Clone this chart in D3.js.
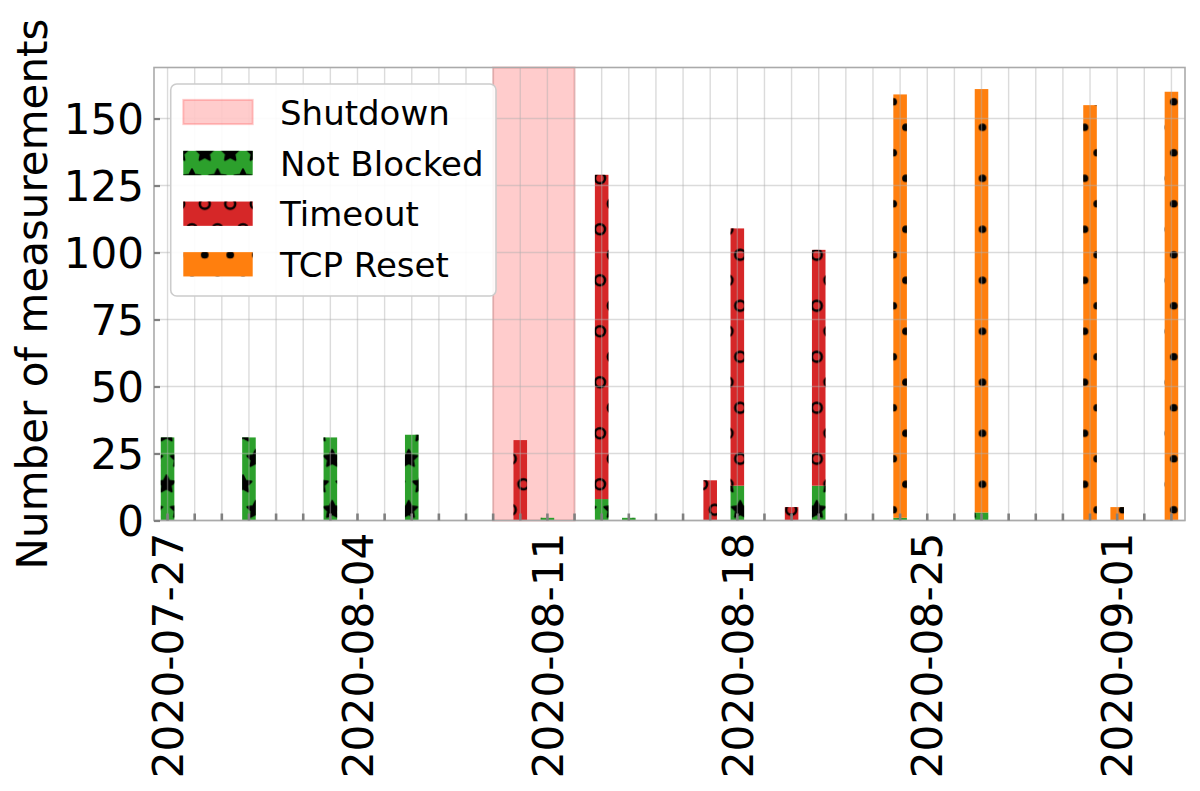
<!DOCTYPE html>
<html><head><meta charset="utf-8">
<script src="https://cdn.jsdelivr.net/npm/d3@7"></script>
<style>html,body{margin:0;padding:0;background:#fff;} svg{display:block;}</style>
</head><body>
<script>
// ---------------- data ----------------
const dates = ["2020-07-27","2020-07-28","2020-07-29","2020-07-30","2020-08-01","2020-08-02","2020-08-03",
  "2020-08-04","2020-08-05","2020-08-06","2020-08-07","2020-08-08","2020-08-09","2020-08-10",
  "2020-08-11","2020-08-12","2020-08-13","2020-08-14","2020-08-15","2020-08-16","2020-08-17",
  "2020-08-18","2020-08-19","2020-08-20","2020-08-21","2020-08-22","2020-08-23","2020-08-24",
  "2020-08-25","2020-08-26","2020-08-27","2020-08-28","2020-08-29","2020-08-30","2020-08-31",
  "2020-09-01","2020-09-02","2020-09-03"];
const tickLabels = ["2020-07-27","2020-08-04","2020-08-11","2020-08-18","2020-08-25","2020-09-01"];
const yTicks = [0,25,50,75,100,125,150];
const notBlocked = [31,0,0,31,0,0,31,0,0,32, 0,0,0,0,1,0,8,1,0,0, 0,13,0,0,13,0,0,1,0,0, 3,0,0,0,0,0,0,0];
const timeout    = [0,0,0,0,0,0,0,0,0,0, 0,0,0,30,0,0,121,0,0,0, 15,96,0,5,88,0,0,0,0,0, 0,0,0,0,0,0,0,0];
const tcpReset   = [0,0,0,0,0,0,0,0,0,0, 0,0,0,0,0,0,0,0,0,0, 0,0,0,0,0,0,0,158,0,0, 158,0,0,0,155,5,0,160];
const shutdown = ["2020-08-09","2020-08-12"];
const seriesNames = ["Not Blocked","Timeout","TCP Reset"];
const yLabel = "Number of measurements";

// ---------------- styles ----------------
const seriesColors = {"Not Blocked":"#2ca02c","Timeout":"#d62728","TCP Reset":"#ff7f0e"};
const seriesHatch = {"Not Blocked":"hatch-star","Timeout":"hatch-circle","TCP Reset":"hatch-dot"};
const FONT = "DejaVu Sans";
const W = 1200, H = 791;
const L = 154, R = 1185, T = 67.5, B = 520.5;

const svg = d3.select("body").append("svg").attr("width", W).attr("height", H)
  .style("font-family", FONT);

// hatch patterns (aligned to page coordinates)
const defs = svg.append("defs");
const tw = 25.5, th = 51, hw = 2.5;
function makePattern(id, drawFn) {
  const p = defs.append("pattern").attr("id", id).attr("patternUnits", "userSpaceOnUse")
    .attr("x", 13.5).attr("y", 25.3).attr("width", tw).attr("height", th);
  const pts = [[0,0],[tw/2, th/2]];
  pts.forEach(([px,py]) => {
    [-1,0,1].forEach(i => [-1,0,1].forEach(j => drawFn(p, px + i*tw, py + j*th)));
  });
}
function starPath(cx, cy, ro) {
  const ri = ro*0.5; let d = "";
  for (let k = 0; k < 10; k++) {
    const a = -Math.PI/2 + k*Math.PI/5;
    const r = k % 2 === 0 ? ro : ri;
    d += (k === 0 ? "M" : "L") + (cx + r*Math.cos(a)).toFixed(2) + "," + (cy + r*Math.sin(a)).toFixed(2);
  }
  return d + "Z";
}
makePattern("hatch-star", (p, x, y) => p.append("path").attr("d", starPath(x, y, 8.8))
  .attr("fill", "#000").attr("stroke", "#000").attr("stroke-width", 2.1).attr("stroke-linejoin","round"));
makePattern("hatch-circle", (p, x, y) => p.append("circle").attr("cx", x).attr("cy", y).attr("r", 5.0)
  .attr("fill", "none").attr("stroke", "#000").attr("stroke-width", hw));
makePattern("hatch-dot", (p, x, y) => p.append("circle").attr("cx", x).attr("cy", y).attr("r", 2.8)
  .attr("fill", "#000").attr("stroke", "#000").attr("stroke-width", 2.1));

// scales
const x = d3.scaleBand().domain(dates).range([L, R]).paddingInner(0.5).paddingOuter(0.25);
const cx = d => x(d) + x.bandwidth()/2;
const rows = dates.map((d,i) => ({date: d, "Not Blocked": notBlocked[i], "Timeout": timeout[i], "TCP Reset": tcpReset[i]}));
const totMax = d3.max(rows, r => r["Not Blocked"] + r["Timeout"] + r["TCP Reset"]);
const y = d3.scaleLinear().domain([0, totMax*1.05]).range([B, T]);

// shutdown span
svg.append("rect").attr("x", cx(shutdown[0])).attr("y", T)
  .attr("width", cx(shutdown[1]) - cx(shutdown[0])).attr("height", B - T)
  .attr("fill", "red").attr("fill-opacity", 0.2)
  .attr("stroke", "red").attr("stroke-opacity", 0.2).attr("stroke-width", 2);

// bars
const stack = d3.stack().keys(seriesNames)(rows);
stack.forEach(layer => {
  const key = layer.key;
  const g = svg.append("g");
  const segs = layer.filter(s => s[1] - s[0] > 0);
  g.selectAll("rect.fill").data(segs).join("rect").attr("class","fill")
    .attr("x", s => x(s.data.date)).attr("width", x.bandwidth())
    .attr("y", s => y(s[1])).attr("height", s => y(s[0]) - y(s[1]))
    .attr("fill", seriesColors[key]);
  g.selectAll("rect.hatch").data(segs).join("rect").attr("class","hatch")
    .attr("x", s => x(s.data.date)).attr("width", x.bandwidth())
    .attr("y", s => y(s[1])).attr("height", s => y(s[0]) - y(s[1]))
    .attr("fill", "url(#" + seriesHatch[key] + ")");
});

// grid (above bars)
const grid = svg.append("g").attr("stroke", "#b0b0b0").attr("stroke-opacity", 0.45).attr("stroke-width", 1.4);
grid.selectAll("line.v").data(dates).join("line").attr("class","v")
  .attr("x1", d => cx(d)).attr("x2", d => cx(d)).attr("y1", T).attr("y2", B);
grid.selectAll("line.h").data(yTicks).join("line").attr("class","h")
  .attr("x1", L).attr("x2", R).attr("y1", d => y(d)).attr("y2", d => y(d));

// frame
svg.append("rect").attr("x", L).attr("y", T).attr("width", R - L).attr("height", B - T)
  .attr("fill", "none").attr("stroke", "#aaaaaa").attr("stroke-width", 1.6);

// x axis
const xAxis = svg.append("g").attr("transform", `translate(0,${B})`)
  .call(d3.axisBottom(x).tickSize(-7).tickFormat(d => tickLabels.includes(d) ? d : ""));
xAxis.select(".domain").remove();
xAxis.selectAll(".tick line").attr("stroke", "#808080").attr("stroke-width", 2.6);
xAxis.selectAll(".tick text").attr("transform", "rotate(-90)").attr("x", -12).attr("y", 0)
  .attr("dy", "0.36em").attr("text-anchor", "end")
  .attr("font-size", 42.3).attr("font-family", FONT).attr("fill", "#000");

// y axis
const yAxis = svg.append("g").attr("transform", `translate(${L},0)`)
  .call(d3.axisLeft(y).tickValues(yTicks).tickSize(-6).tickPadding(10));
yAxis.select(".domain").remove();
yAxis.selectAll(".tick line").attr("stroke", "#808080").attr("stroke-width", 2.2);
yAxis.selectAll(".tick text").attr("font-size", 42).attr("font-family", FONT).attr("fill", "#000")
  .attr("dy", "0.36em");

// y label
svg.append("text").attr("transform", `translate(47,${(T+B)/2}) rotate(-90)`)
  .attr("text-anchor", "middle").attr("font-size", 42).attr("fill", "#000").text(yLabel);

// legend
const lg = svg.append("g");
lg.append("rect").attr("x", 170.7).attr("y", 84).attr("width", 325.3).attr("height", 212).attr("rx", 6)
  .attr("fill", "#fff").attr("fill-opacity", 0.9).attr("stroke", "#cccccc").attr("stroke-width", 1.6);
const legendItems = ["Shutdown"].concat(seriesNames);
const rowY = [112, 163, 213.7, 264.3];
legendItems.forEach((name, i) => {
  const cyv = rowY[i];
  if (name === "Shutdown") {
    lg.append("rect").attr("x", 183.3).attr("y", cyv - 12.15).attr("width", 69.4).attr("height", 24.3)
      .attr("fill", "red").attr("fill-opacity", 0.2).attr("stroke", "red").attr("stroke-opacity", 0.2).attr("stroke-width", 2);
  } else {
    lg.append("rect").attr("x", 183.3).attr("y", cyv - 12.15).attr("width", 69.4).attr("height", 24.3)
      .attr("fill", seriesColors[name]);
    lg.append("rect").attr("x", 183.3).attr("y", cyv - 12.15).attr("width", 69.4).attr("height", 24.3)
      .attr("fill", "url(#" + seriesHatch[name] + ")");
  }
  lg.append("text").attr("x", 280).attr("y", cyv + 12.5).attr("font-size", 34).attr("fill", "#000").text(name);
});
</script>
</body></html>
